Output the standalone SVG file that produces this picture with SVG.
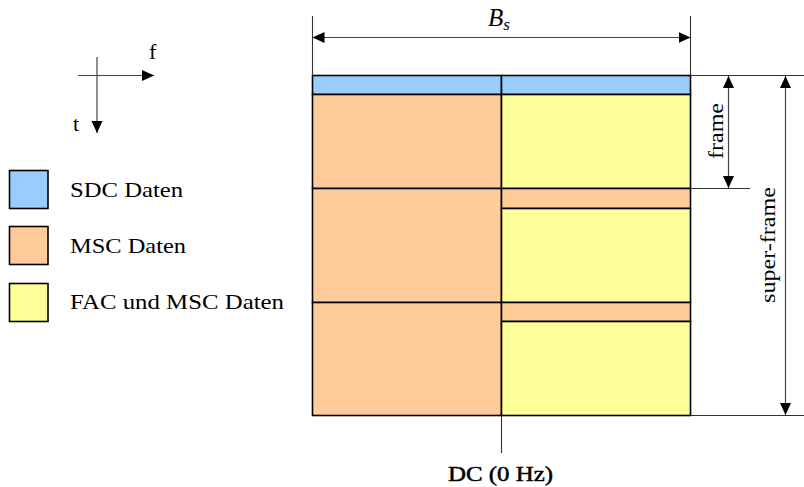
<svg xmlns="http://www.w3.org/2000/svg" width="804" height="487" viewBox="0 0 804 487">
<style>
text{font-family:"Liberation Serif","DejaVu Serif",serif;fill:#000}
.lbl{font-size:22px}
.blk{stroke:#000;stroke-width:1.6}
.sdc{fill:#99CCFF}
.msc{fill:#FFCC99}
.fac{fill:#FFFF99}
.ln{stroke:#333;stroke-width:1.1;fill:none}
.arr{stroke:#444;stroke-width:1.2;fill:none;marker-end:url(#ah)}
.darr{stroke:#444;stroke-width:1.2;fill:none;marker-start:url(#ah);marker-end:url(#ah)}
</style>
<defs>
<marker id="ah" markerUnits="userSpaceOnUse" markerWidth="14" markerHeight="12" refX="12" refY="6" orient="auto-start-reverse" viewBox="0 0 14 12">
<path d="M0,0.5 L12,6 L0,11.5 Z" fill="#000"/>
</marker>
</defs>

<g id="axes">
<line class="arr" x1="78" y1="75.5" x2="154" y2="75.5"/>
<line class="arr" x1="97" y1="57" x2="97" y2="133"/>
<text class="lbl" x="149" y="59">f</text>
<text class="lbl" x="73" y="131">t</text>
</g>

<g id="legend-sdc">
<rect class="blk sdc" x="9.5" y="170.5" width="38.5" height="38"/>
<text class="lbl" x="70" y="197" textLength="113" lengthAdjust="spacingAndGlyphs">SDC Daten</text>
</g>
<g id="legend-msc">
<rect class="blk msc" x="9.5" y="226.5" width="38.5" height="38"/>
<text class="lbl" x="70" y="253" textLength="116" lengthAdjust="spacingAndGlyphs">MSC Daten</text>
</g>
<g id="legend-fac">
<rect class="blk fac" x="9.5" y="283.5" width="38.5" height="38"/>
<text class="lbl" x="70" y="309" textLength="214" lengthAdjust="spacingAndGlyphs">FAC und MSC Daten</text>
</g>

<g id="grid">
<rect class="blk sdc" x="312.5" y="75.5" width="189" height="19"/>
<rect class="blk msc" x="312.5" y="94.5" width="189" height="94"/>
<rect class="blk msc" x="312.5" y="188.5" width="189" height="114"/>
<rect class="blk msc" x="312.5" y="302.5" width="189" height="113"/>
<rect class="blk sdc" x="501.5" y="75.5" width="189" height="19"/>
<rect class="blk fac" x="501.5" y="94.5" width="189" height="94"/>
<rect class="blk msc" x="501.5" y="188.5" width="189" height="20"/>
<rect class="blk fac" x="501.5" y="208.5" width="189" height="94"/>
<rect class="blk msc" x="501.5" y="302.5" width="189" height="19"/>
<rect class="blk fac" x="501.5" y="321.5" width="189" height="94"/>
</g>

<g id="connectors">
<line class="ln" x1="312.5" y1="16" x2="312.5" y2="75"/>
<line class="ln" x1="690.5" y1="16" x2="690.5" y2="75"/>
<line class="darr" x1="312.5" y1="37.5" x2="690.5" y2="37.5"/>
<line class="ln" x1="690.5" y1="75.5" x2="804" y2="75.5"/>
<line class="ln" x1="690.5" y1="188.5" x2="750" y2="188.5"/>
<line class="ln" x1="690.5" y1="415.5" x2="804" y2="415.5"/>
<line class="darr" x1="728.5" y1="76" x2="728.5" y2="188"/>
<line class="darr" x1="785.5" y1="76" x2="785.5" y2="415"/>
<line class="ln" x1="501.5" y1="415.5" x2="501.5" y2="453"/>
</g>

<g id="label-bs">
<text x="488" y="26" font-size="25" font-style="italic">B<tspan font-size="17" dy="4">s</tspan></text>
</g>
<g id="label-frame">
<text class="lbl" transform="translate(723,131) rotate(-90)" text-anchor="middle" textLength="56" lengthAdjust="spacingAndGlyphs">frame</text>
</g>
<g id="label-superframe">
<text class="lbl" transform="translate(775,245) rotate(-90)" text-anchor="middle" textLength="116" lengthAdjust="spacingAndGlyphs">super-frame</text>
</g>
<g id="label-dc">
<text class="lbl" x="448" y="481" stroke="#000" stroke-width="0.5" textLength="105" lengthAdjust="spacingAndGlyphs">DC (0 Hz)</text>
</g>
</svg>
